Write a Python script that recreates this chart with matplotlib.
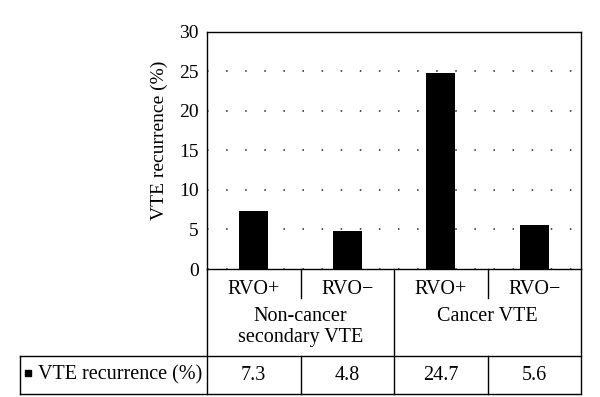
import matplotlib
matplotlib.use("Agg")
import matplotlib.pyplot as plt
from matplotlib.lines import Line2D
from matplotlib import transforms

# ---------------------------------------------------------------------------
# Data
# ---------------------------------------------------------------------------
subgroups = ["RVO+", "RVO\u2212", "RVO+", "RVO\u2212"]
groups = ["Non-cancer\nsecondary VTE", "Cancer VTE"]
recurrence = [7.3, 4.8, 24.7, 5.6]
series_label = "VTE recurrence (%)"
yticks = [0, 5, 10, 15, 20, 25, 30]

plt.rcParams["font.family"] = ["Liberation Serif", "DejaVu Serif"]
plt.rcParams["font.size"] = 14

W, H = 600, 397
fig = plt.figure(figsize=(W / 100, H / 100), dpi=100)


def fy(px):
    return 1 - px / H


ax_left, ax_right, ax_top, ax_bot = 207, 581, 31.5, 269
ax = fig.add_axes([ax_left / W, fy(ax_bot), (ax_right - ax_left) / W,
                   (ax_bot - ax_top) / H])

x = list(range(len(recurrence)))
ax.bar(x, recurrence, width=0.31, color="black", zorder=3)
ax.set_xlim(-0.5, len(recurrence) - 0.5)
ax.set_ylim(0, 30)
ax.set_yticks(yticks)
ax.set_xticks([])
ax.tick_params(axis="y", length=0, pad=6, labelsize=14)
ax.yaxis.grid(True, linestyle=(0, (1, 11.5)), color="#222222", linewidth=1.1)
for sp in ax.spines.values():
    sp.set_color("black")
    sp.set_linewidth(1.0)
ax.set_ylabel(series_label, fontsize=14)
ax.yaxis.set_label_coords(-0.105, 0.54)

# ---------------------------------------------------------------------------
# Data table under the axis
# ---------------------------------------------------------------------------
tr = transforms.blended_transform_factory(ax.transData, fig.transFigure)
lw = 1.0
y_axis, y_short, y_mid, y_bottom = ax_bot, 298, 356, 393.5


def vline(xd, y0, y1):
    fig.add_artist(Line2D([xd, xd], [fy(y0), fy(y1)], transform=tr,
                          color="black", lw=lw))


n = len(recurrence)
vline(-0.5, y_axis, y_bottom)
vline(n - 0.5, y_axis, y_bottom)
for i in range(1, n):
    if i % 2 == 0:
        vline(i - 0.5, y_axis, y_bottom)
    else:
        vline(i - 0.5, y_axis, y_short)
        vline(i - 0.5, y_mid, y_bottom)

# horizontal lines spanning the row label column too
for yy in (y_mid, y_bottom):
    fig.add_artist(Line2D([20 / W, ax_right / W], [fy(yy), fy(yy)],
                          transform=fig.transFigure, color="black", lw=lw))
fig.add_artist(Line2D([20 / W, 20 / W], [fy(y_mid), fy(y_bottom)],
                      transform=fig.transFigure, color="black", lw=lw))

for xi, lab in zip(x, subgroups):
    fig.text(xi, fy(289), lab, transform=tr, ha="center", va="center",
             fontsize=14.5)
for gi, g in enumerate(groups):
    fig.text(2 * gi + 0.5, fy(307), g, transform=tr, ha="center", va="top",
             fontsize=14.5, linespacing=1.15)
for xi, v in zip(x, recurrence):
    fig.text(xi, fy(375), f"{v:.1f}", transform=tr, ha="center",
             va="center", fontsize=14.5)

# row label with legend key
fig.add_artist(Line2D([28 / W], [fy(373)], transform=fig.transFigure,
                      marker="s", markersize=5, color="black", lw=0))
fig.text(38 / W, fy(375), series_label, ha="left", va="center",
         fontsize=14.5)

fig.savefig("out.png", dpi=100)
